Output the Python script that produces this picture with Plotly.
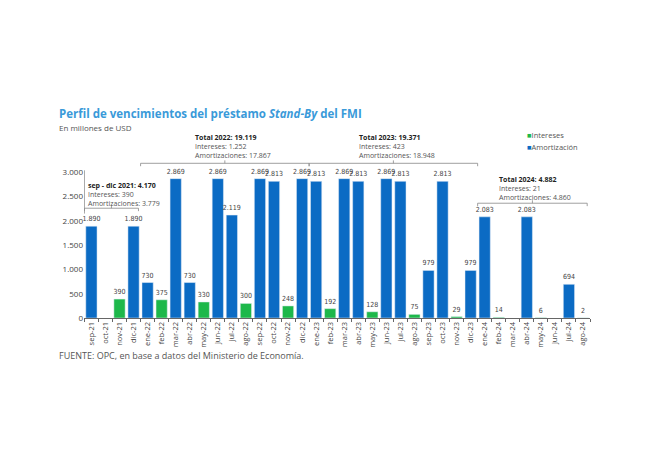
import plotly.graph_objects as go

meses = ["sep-21", "oct-21", "nov-21", "dic-21",
         "ene-22", "feb-22", "mar-22", "abr-22", "may-22", "jun-22",
         "jul-22", "ago-22", "sep-22", "oct-22", "nov-22", "dic-22",
         "ene-23", "feb-23", "mar-23", "abr-23", "may-23", "jun-23",
         "jul-23", "ago-23", "sep-23", "oct-23", "nov-23", "dic-23",
         "ene-24", "feb-24", "mar-24", "abr-24", "may-24", "jun-24",
         "jul-24", "ago-24"]

amortizacion = [1890, None, None, 1890,
                730, None, 2869, 730, None, 2869,
                2119, None, 2869, 2813, None, 2869,
                2813, None, 2869, 2813, None, 2869,
                2813, None, 979, 2813, None, 979,
                2083, None, None, 2083, None, None,
                694, None]

intereses = [None, None, 390, None,
             None, 375, None, None, 330, None,
             None, 300, None, None, 248, None,
             None, 192, None, None, 128, None,
             None, 75, None, None, 29, None,
             None, 14, None, None, 6, None,
             None, 2]

# bloques de totales: (inicio, fin, titulo, intereses, amortizaciones)
bloques = [
    (-0.5, 3.35, "sep - dic 2021: 4.170", "Intereses: 390", "Amortizaciones: 3.779"),
    (3.5, 15.5, "Total 2022: 19.119", "Intereses: 1.252", "Amortizaciones: 17.867"),
    (15.5, 27.5, "Total 2023: 19.371", "Intereses: 423", "Amortizaciones: 18.948"),
    (27.5, 35.3, "Total 2024: 4.882", "Intereses: 21", "Amortizaciones: 4.860"),
]

AZUL = "#0B6BC4"
VERDE = "#1DB84A"
GRIS = "#555555"
LINEA = "#888888"
FUENTE = "Open Sans"
ETIQ = "DejaVu Sans Condensed, Open Sans"

fig = go.Figure()

fig.add_trace(go.Bar(
    x=meses, y=intereses, name="Intereses",
    marker=dict(color=VERDE),
    texttemplate="%{y:,.0f}", textposition="outside",
    textfont=dict(size=7, color="#444444", family=ETIQ),
    constraintext="none", cliponaxis=False, showlegend=False,
))
fig.add_trace(go.Bar(
    x=meses, y=amortizacion, name="Amortización",
    marker=dict(color=AZUL),
    texttemplate="%{y:,.0f}", textposition="outside",
    textfont=dict(size=7, color="#444444", family=ETIQ),
    constraintext="none", cliponaxis=False, showlegend=False,
))

# posicion de la llave y del centro del texto de cada bloque (unidades del eje y)
niveles = [(2260, 2548), (3185, 3534), (3185, 3534), (2363, 2671)]
izq = [-0.36, 7.2, 18.9, 28.9]

for (x0, x1, tit, inte, amo), (yl, yt), xt in zip(bloques, niveles, izq):
    mid = (x0 + x1) / 2
    fig.add_shape(type="line", x0=x0, x1=x1, y0=yl, y1=yl,
                  line=dict(color=LINEA, width=0.8))
    fig.add_shape(type="line", x0=x0, x1=x0, y0=yl, y1=yl - 60,
                  line=dict(color=LINEA, width=0.8))
    fig.add_shape(type="line", x0=x1, x1=x1, y0=yl, y1=yl - 60,
                  line=dict(color=LINEA, width=0.8))
    fig.add_shape(type="line", x0=mid, x1=mid, y0=yl, y1=yl + 60,
                  line=dict(color=LINEA, width=0.8))
    fig.add_annotation(
        x=xt, y=yt, xref="x", yref="y",
        text=f"<span style='color:#222222'><b>{tit}</b></span><br>{inte}<br>{amo}",
        showarrow=False, xanchor="left", yanchor="middle", align="left",
        font=dict(size=7, color=GRIS, family=FUENTE),
    )

# linea vertical del bloque 2021
fig.add_shape(type="line", x0=-0.5, x1=-0.5, y0=3040, y1=2150,
              line=dict(color=LINEA, width=0.8))

# leyenda
for k, (nombre, color) in enumerate([("Intereses", VERDE), ("Amortización", AZUL)]):
    fig.add_annotation(
        x=0.872, y=0.979 - k * 0.064, xref="paper", yref="paper",
        text=f"<span style='color:{color}'>■</span>{nombre}",
        showarrow=False, xanchor="left", yanchor="middle",
        font=dict(size=7.5, color=GRIS, family=FUENTE),
    )

fig.add_annotation(
    x=-0.053, y=1.096, xref="paper", yref="paper",
    text="<b>Perfil de vencimientos del préstamo <i>Stand-By</i> del FMI</b>",
    showarrow=False, xanchor="left", yanchor="middle",
    font=dict(size=11.5, color="#3A9AD9", family=FUENTE),
)
fig.add_annotation(
    x=-0.053, y=1.021, xref="paper", yref="paper",
    text="En millones de USD",
    showarrow=False, xanchor="left", yanchor="middle",
    font=dict(size=8, color=GRIS, family=FUENTE),
)
fig.add_annotation(
    x=-0.053, y=-0.198, xref="paper", yref="paper",
    text="FUENTE: OPC, en base a datos del Ministerio de Economía.",
    showarrow=False, xanchor="left", yanchor="middle",
    font=dict(size=9, color=GRIS, family=FUENTE),
)

fig.update_layout(
    width=642, height=462,
    margin=dict(l=76, r=60, t=123, b=152),
    paper_bgcolor="white", plot_bgcolor="white",
    barmode="overlay", bargap=0.2,
    separators=",.",
    font=dict(family=FUENTE, color=GRIS),
    showlegend=False,
)
fig.update_xaxes(
    type="category", tickangle=-90,
    tickfont=dict(size=7.5, color="#444444"),
    showline=True, linecolor="#666666", linewidth=1,
    ticks="outside", tickson="boundaries", ticklen=3, tickcolor="#666666",
    showgrid=False,
)
fig.update_yaxes(
    range=[0, 3850],
    tickvals=[0, 500, 1000, 1500, 2000, 2500, 3000],
    tickformat=",d",
    tickfont=dict(size=8, color="#444444"),
    showgrid=False, zeroline=False, showline=False,
)

fig.write_html("out.html")
